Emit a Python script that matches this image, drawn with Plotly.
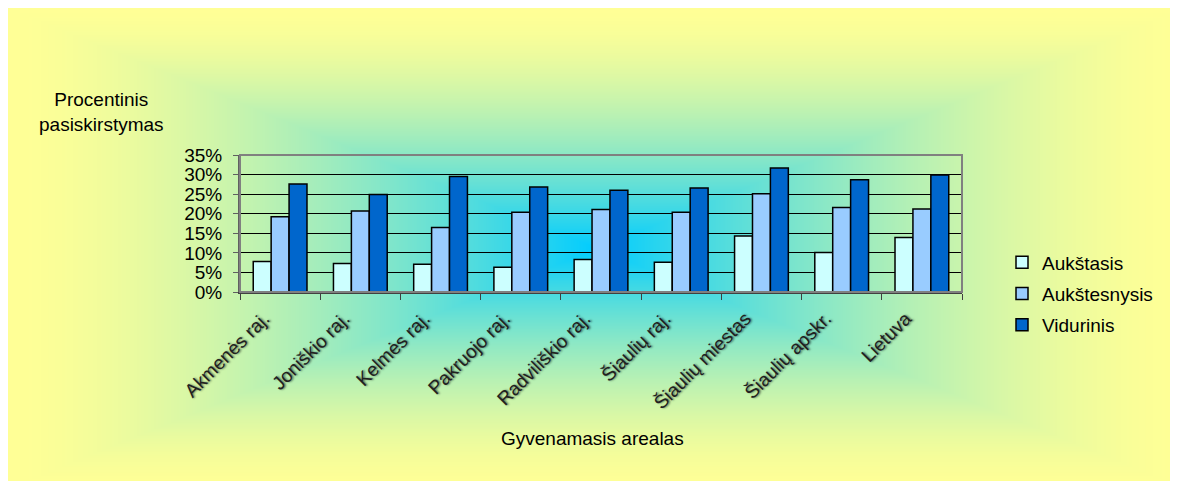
import base64, struct, zlib
import numpy as np
import plotly.graph_objects as go

categories = ["Akmenės raj.", "Joniškio raj.", "Kelmės raj.", "Pakruojo raj.",
              "Radviliškio raj.", "Šiaulių raj.", "Šiaulių miestas", "Šiaulių apskr.", "Lietuva"]
aukstasis = [7.8, 7.3, 7.1, 6.3, 8.3, 7.6, 14.3, 10.1, 13.9]
aukstesnysis = [19.2, 20.7, 16.5, 20.4, 21.1, 20.4, 25.1, 21.6, 21.2]
vidurinis = [27.6, 24.9, 29.5, 26.8, 26.0, 26.6, 31.7, 28.7, 29.9]
series_names = ["Aukštasis", "Aukštesnysis", "Vidurinis"]
series_colors = ["#ccffff", "#99ccff", "#0066cc"]
y_ticks = [0, 5, 10, 15, 20, 25, 30, 35]

FW, FH = 1178, 481
L, T = 232, 147
PW, PH = 722, 137
R, B = FW - L - PW, FH - T - PH

# ---- background gradient image (rectangular, from centre) ----
W, H = FW, FH
xs = (np.arange(W) + 0.5 - W / 2) / (W / 2)
ys = (np.arange(H) + 0.5 - H / 2) / (H / 2)
t = np.maximum(np.abs(xs)[None, :], np.abs(ys)[:, None])
t = np.clip(t, 0, 1)
s = (1 - (1 - t) ** 1.6)[..., None]
c0 = np.array([0, 204, 255], dtype=float)
c1 = np.array([255, 255, 150], dtype=float)
img = (c0 * (1 - s) + c1 * s).round().astype(np.uint8)

def make_png(a):
    h, w, _ = a.shape
    raw = b"".join(b"\x00" + a[i].tobytes() for i in range(h))
    def chunk(tag, data):
        c = struct.pack(">I", len(data)) + tag + data
        return c + struct.pack(">I", zlib.crc32(tag + data) & 0xffffffff)
    return (b"\x89PNG\r\n\x1a\n" + chunk(b"IHDR", struct.pack(">IIBBBBB", w, h, 8, 2, 0, 0, 0))
            + chunk(b"IDAT", zlib.compress(raw, 9)) + chunk(b"IEND", b""))

src = "data:image/png;base64," + base64.b64encode(make_png(img)).decode()

def px_x(px):
    return (px - L) / PW

def px_y(py):
    return (T + PH - py) / PH

font = "Liberation Sans, Arial, sans-serif"
FS = 19

fig = go.Figure()
for name, vals, col in zip(series_names, [aukstasis, aukstesnysis, vidurinis], series_colors):
    fig.add_trace(go.Bar(x=categories, y=vals, name=name, legendgroup=name,
                         marker=dict(color=col, line=dict(color="black", width=1.5))))

fig.update_layout(
    width=FW, height=FH,
    margin=dict(l=L, r=R, t=T, b=B),
    paper_bgcolor="white",
    plot_bgcolor="rgba(0,0,0,0)",
    barmode="group", bargap=0.33, bargroupgap=0,
    font=dict(family=font, size=FS, color="black"),
    showlegend=True,
    legend=dict(x=px_x(994), y=px_y(286), xanchor="left", yanchor="middle",
                bgcolor="rgba(0,0,0,0)", font=dict(size=FS), tracegroupgap=3.5,
                traceorder="grouped"),
    images=[dict(source=src, xref="paper", yref="paper",
                 x=px_x(0), y=px_y(0), sizex=W / PW, sizey=H / PH,
                 xanchor="left", yanchor="top", sizing="stretch", layer="below")],
    annotations=[
        dict(text="Procentinis<br>pasiskirstymas", xref="paper", yref="paper",
             x=px_x(93), y=px_y(104), xanchor="center", yanchor="middle",
             showarrow=False, align="center", font=dict(size=FS)),
        dict(text="Gyvenamasis arealas", xref="paper", yref="paper",
             x=px_x(584), y=px_y(430), xanchor="center", yanchor="middle",
             showarrow=False, font=dict(size=FS)),
    ],
    shapes=[dict(type="rect", xref="paper", yref="paper", x0=0, x1=1, y0=0, y1=1,
                 line=dict(color="#808080", width=2), layer="above")],
)

fig.update_xaxes(showgrid=False, ticks="outside", tickson="boundaries", ticklen=6,
                 tickcolor="#404040", tickangle=-45, showline=True, linecolor="#404040",
                 linewidth=2, ticklabelshift=-16, ticklabelstandoff=6,
                 tickfont=dict(size=FS, color="#202020", shadow="1px 1px 2px rgba(0,0,0,0.55)"))
fig.update_yaxes(range=[0, 35], tickvals=y_ticks, ticktext=[f"{v}%" for v in y_ticks],
                 showgrid=True, gridcolor="black", gridwidth=1, zeroline=False,
                 ticks="outside", ticklen=5, tickcolor="#606060", ticklabelstandoff=7,
                 showline=True, linecolor="#606060", linewidth=2,
                 tickfont=dict(size=FS))

fig.write_html("out.html")
